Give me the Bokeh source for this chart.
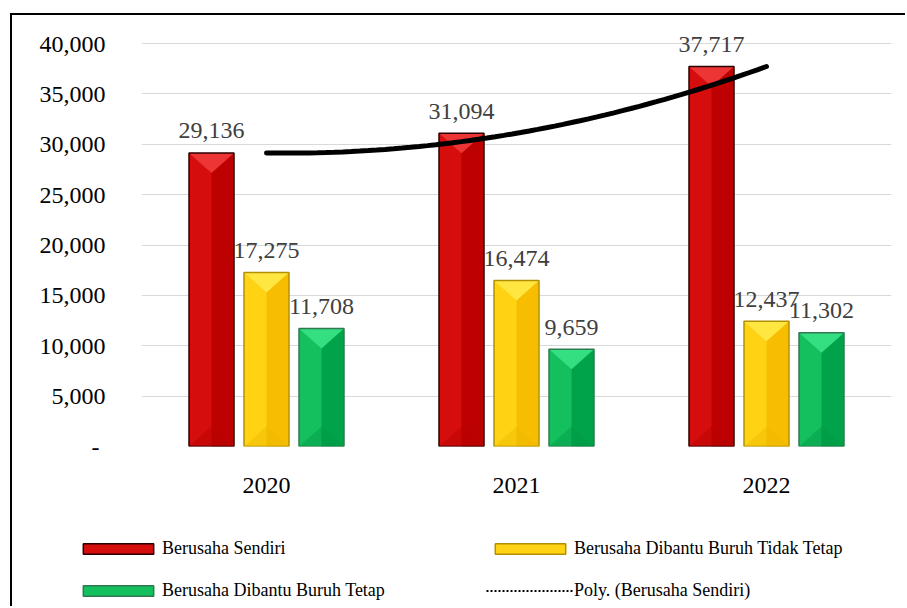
from bokeh.plotting import figure
from bokeh.models import (Range1d, FixedTicker, Legend, LegendItem, NumeralTickFormatter)
from bokeh.core.properties import value
from bokeh.embed import file_html
from bokeh.resources import INLINE
import numpy as np

# ---- data ----
years = ["2020", "2021", "2022"]
sendiri = [29136, 31094, 37717]
tidak_tetap = [17275, 16474, 12437]
tetap = [11708, 9659, 11302]
series_names = ["Berusaha Sendiri", "Berusaha Dibantu Buruh Tidak Tetap",
                "Berusaha Dibantu Buruh Tetap"]
trend_name = "Poly. (Berusaha Sendiri)"
y_ticks = [0, 5000, 10000, 15000, 20000, 25000, 30000, 35000, 40000]

FONT = "Liberation Serif"
W = 895
H1, H2 = 505, 88
PX_PER_UNIT = 403 / 40000          # 0 at y=446, 40000 at y=43 (page)
FRAME_TOP_PAGE = 18
FRAME_H = 446 - FRAME_TOP_PAGE
YMAX = FRAME_H / PX_PER_UNIT

p = figure(width=W, height=H1, output_backend="svg", toolbar_location=None,
           x_range=Range1d(-0.5, 2.5), y_range=Range1d(0, YMAX),
           min_border_left=129, min_border_right=16,
           min_border_top=FRAME_TOP_PAGE - 15,
           min_border_bottom=H1 - (446 - 15))
p.styles = {"margin-left": "10px", "margin-top": "13px",
            "border-left": "2px solid black", "border-top": "2px solid black"}
p.outline_line_color = None
p.border_fill_color = "white"

idx = np.arange(len(years))
BW = 0.18
OFF = 0.22
bevel = 20 / PX_PER_UNIT

# (left face, right face, top facet, bottom facet, outline)
styles = [("#d50d0d", "#bd0000", "#ee3535", "#b80000", "#2b0000"),
          ("#ffd314", "#f7bd00", "#ffe640", "#eeb800", "#b39000"),
          ("#14bf5e", "#00a24a", "#33df80", "#009a45", "#2f7a50")]


def bevel_bar(xs, tops, left_col, right_col, top_col, bot_col, line_col):
    xs = list(xs)
    p.vbar(x=xs, top=tops, bottom=0, width=BW, fill_color=left_col, line_color=None)
    p.vbar(x=[x + BW / 4 for x in xs], top=tops, bottom=0, width=BW / 2,
           fill_color=right_col, line_color=None)
    p.patches(xs=[[x - BW / 2, x + BW / 2, x] for x in xs],
              ys=[[0, 0, bevel] for _ in tops],
              fill_color=bot_col, line_color=None, fill_alpha=0.45)
    p.patches(xs=[[x - BW / 2, x + BW / 2, x] for x in xs],
              ys=[[t, t, t - bevel] for t in tops],
              fill_color=top_col, line_color=None)
    p.vbar(x=xs, top=tops, bottom=0, width=BW, fill_color=None,
           line_color=line_col, line_width=1.5)


all_series = [sendiri, tidak_tetap, tetap]
offsets = [-OFF, 0, OFF]
for vals, off, st in zip(all_series, offsets, styles):
    bevel_bar(idx + off, vals, *st)

# trend line (2nd order polynomial fit of Berusaha Sendiri)
coef = np.polyfit(idx, sendiri, 2)
tx = np.linspace(0, 2, 60)
ty = np.polyval(coef, tx)
p.line(tx, ty, line_color="black", line_width=5, line_cap="round")

# value labels
for vals, off in zip(all_series, offsets):
    p.text(x=list(idx + off), y=vals, text=[f"{v:,}" for v in vals],
           text_align="center", text_baseline="alphabetic", y_offset=-22,
           text_font=value(FONT), text_font_size="24px", text_color="#404040")

# axes
p.xgrid.visible = False
p.ygrid.grid_line_color = "#d9d9d9"
p.ygrid.grid_line_width = 1
p.yaxis.ticker = FixedTicker(ticks=y_ticks)
p.yaxis.formatter = NumeralTickFormatter(format="0,0")
p.yaxis.major_label_overrides = {0: "-\u00a0"}
p.xaxis.ticker = FixedTicker(ticks=list(idx))
p.xaxis.major_label_overrides = {int(i): y for i, y in zip(idx, years)}
for ax in (p.xaxis[0], p.yaxis[0]):
    ax.axis_line_color = None
    ax.major_tick_line_color = None
    ax.minor_tick_line_color = None
    ax.major_label_text_font = FONT
    ax.major_label_text_font_size = "24px"
    ax.major_label_text_color = "black"
p.yaxis.major_label_standoff = 30
p.xaxis.major_label_standoff = 25

# ---- legend strip (separate root) ----
p2 = figure(width=W, height=H2, output_backend="svg", toolbar_location=None,
            x_range=Range1d(0, 1), y_range=Range1d(0, 1),
            x_axis_type=None, y_axis_type=None,
            min_border=0, min_border_left=0, min_border_right=0,
            min_border_top=0, min_border_bottom=0)
p2.styles = {"margin-left": "10px", "border-left": "2px solid black"}
p2.outline_line_color = None
p2.border_fill_color = "white"
p2.xgrid.visible = False
p2.ygrid.visible = False

leg_r = []
for st in styles:
    a = p2.vbar(x=[5], top=[1], width=0.1, fill_color=st[0], line_color=None)
    b = p2.vbar(x=[5], top=[1], width=0.1, fill_color=None, line_color=st[4], line_width=1.5)
    leg_r.append([a, b])
r_poly = p2.line(x=[5, 6], y=[5, 6], line_color="black", line_width=2, line_dash="2 2")

common = dict(orientation="horizontal", glyph_width=88, glyph_height=13,
              label_width=324, label_standoff=0, spacing=0, padding=0, margin=0,
              label_text_font=FONT, label_text_font_size="18px",
              label_text_color="black", border_line_color=None,
              background_fill_alpha=0)
leg1 = Legend(items=[LegendItem(label=series_names[0], renderers=leg_r[0]),
                     LegendItem(label=series_names[1], renderers=leg_r[1])],
              location=(62, 47), **common)
leg2 = Legend(items=[LegendItem(label=series_names[2], renderers=leg_r[2]),
                     LegendItem(label=trend_name, renderers=[r_poly])],
              location=(62, 5), **common)
p2.add_layout(leg1)
p2.add_layout(leg2)

open("out.html", "w").write(file_html([p, p2], INLINE))
